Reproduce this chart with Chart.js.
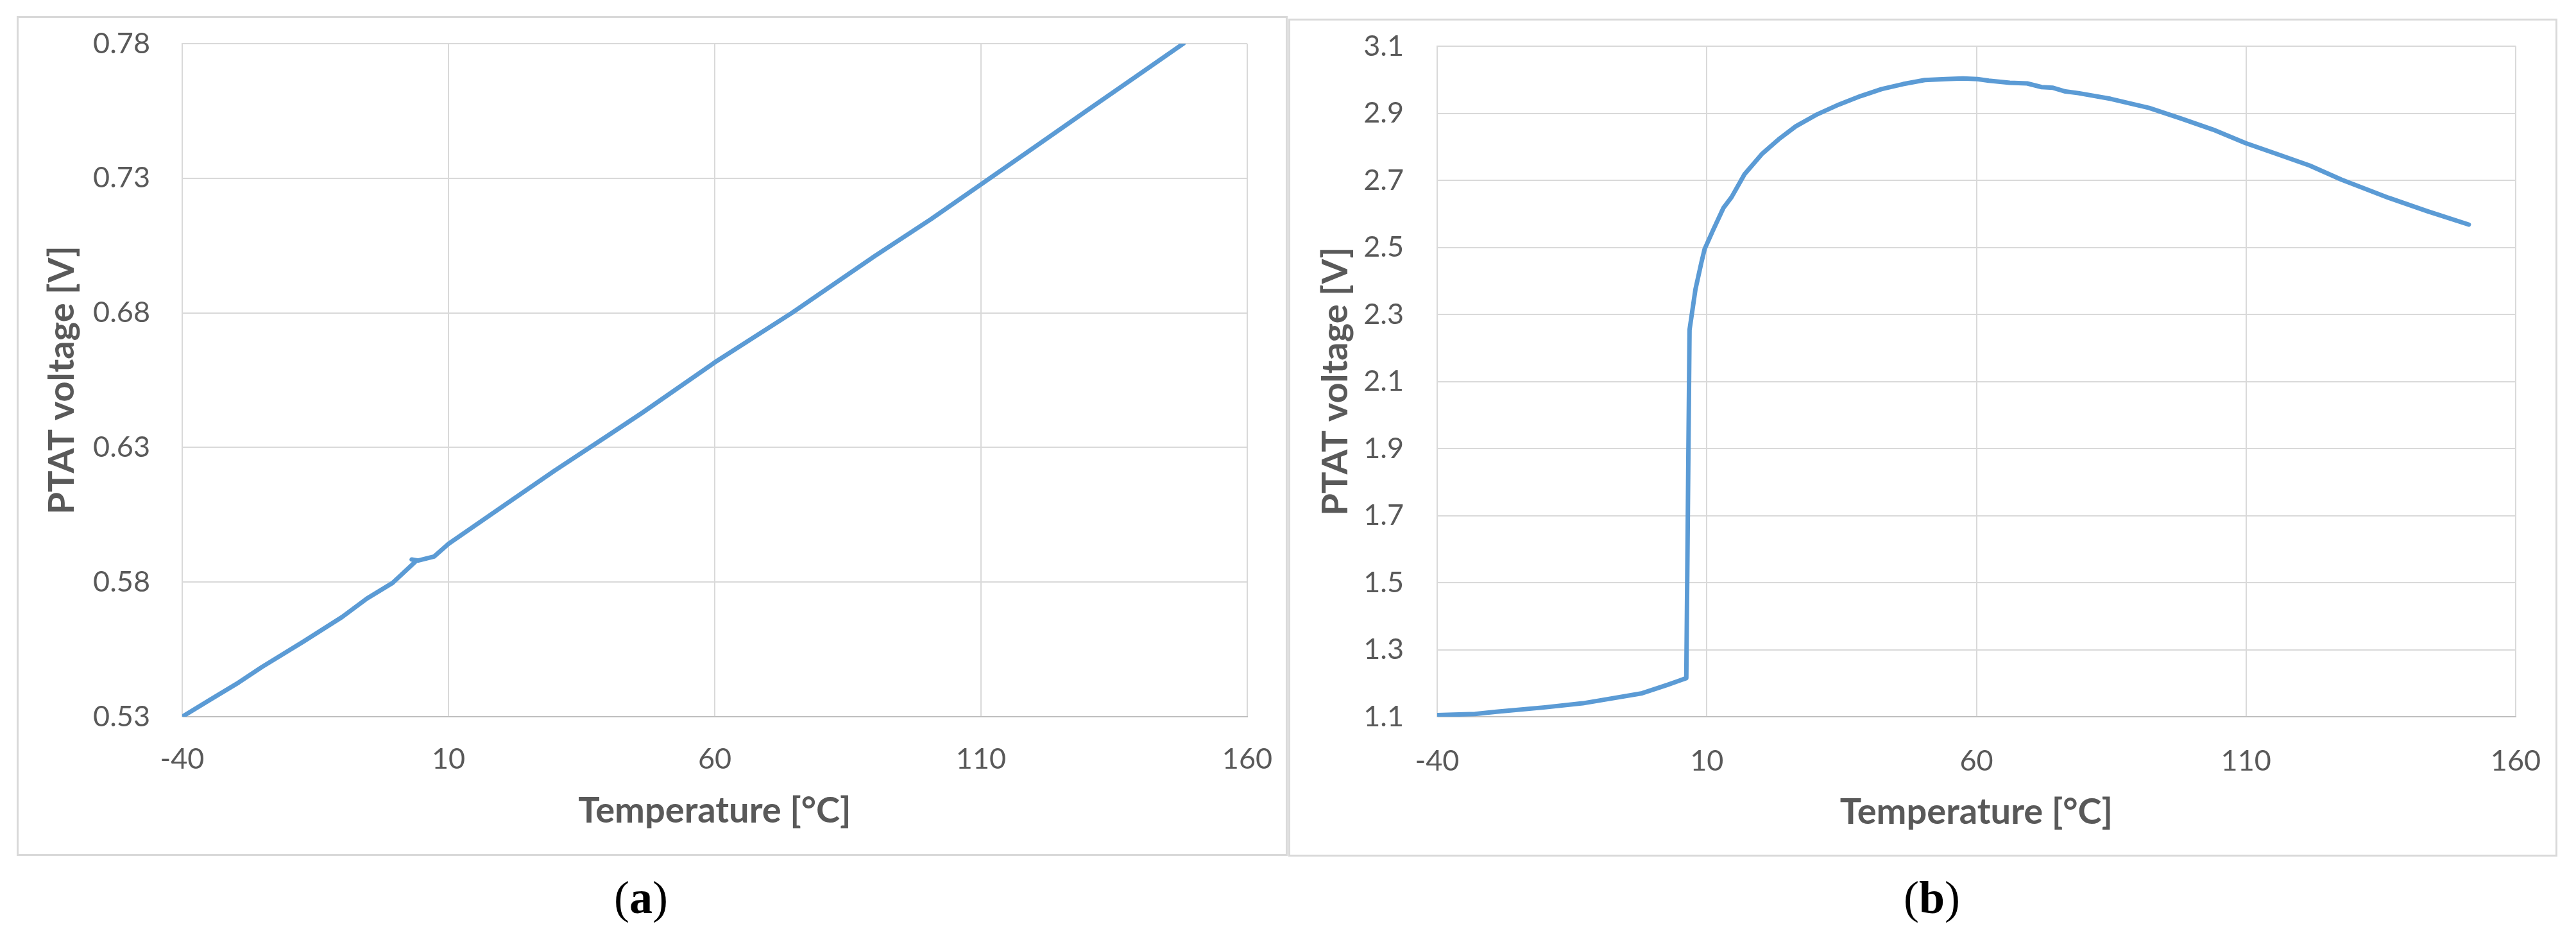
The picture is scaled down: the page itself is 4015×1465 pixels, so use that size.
<!DOCTYPE html>
<html>
<head>
<meta charset="utf-8">
<script src="https://cdn.jsdelivr.net/npm/chart.js@4.4.1/dist/chart.umd.min.js"></script>
<style>
  html, body { margin: 0; padding: 0; background: #ffffff; }
  body { width: 4015px; height: 1465px; position: relative; overflow: hidden; }
  .box { position: absolute; border: 3px solid #d9d9d9; box-sizing: border-box; }
  .wrap { position: absolute; }
  .cap { position: absolute; font-family: "Liberation Serif", "DejaVu Serif", serif; font-size: 72px; line-height: 72px; color: #000; text-align: center; width: 200px; }
</style>
</head>
<body>
<div class="box" style="left:26px;top:25px;width:1981px;height:1309px;"></div>
<div class="box" style="left:2008px;top:29px;width:1978px;height:1306px;"></div>
<div class="wrap" style="left:27px;top:26px;width:1978px;height:1306px;"><canvas id="ca" width="1978" height="1306"></canvas></div>
<div class="wrap" style="left:2009px;top:30px;width:1975px;height:1303px;"><canvas id="cb" width="1975" height="1303"></canvas></div>
<div class="cap" style="left:899px;top:1363px;">(<b>a</b>)</div>
<div class="cap" style="left:2911px;top:1363px;">(<b>b</b>)</div>
<script>
// ---- Data ----
const xTicks = [-40, 10, 60, 110, 160];
const xTickLabels = ["-40", "10", "60", "110", "160"];

const yTicksA = [0.53, 0.58, 0.63, 0.68, 0.73, 0.78];
const yTickLabelsA = ["0.53", "0.58", "0.63", "0.68", "0.73", "0.78"];

const yTicksB = [1.1, 1.3, 1.5, 1.7, 1.9, 2.1, 2.3, 2.5, 2.7, 2.9, 3.1];
const yTickLabelsB = ["1.1", "1.3", "1.5", "1.7", "1.9", "2.1", "2.3", "2.5", "2.7", "2.9", "3.1"];

const xTitle = "Temperature [°C]";
const yTitle = "PTAT voltage [V]";

// (a) PTAT voltage vs temperature
const tempA = [-40, -35, -29.4, -25, -17.4, -10, -5.3, -0.5, 3.9, 3.1, 4.3, 7.3, 10, 21.2, 30, 40, 46.4, 60, 74.5, 90, 100.6, 110, 120, 130, 140, 148];
const voltA = [0.5300, 0.5360, 0.5427, 0.5485, 0.5577, 0.5670, 0.5739, 0.5797, 0.5878, 0.5884, 0.5880, 0.5895, 0.5942, 0.6095, 0.6215, 0.6345, 0.6429, 0.6616, 0.6800, 0.7010, 0.7148, 0.7277, 0.7415, 0.7553, 0.7690, 0.7800];

// (b) PTAT voltage vs temperature
const tempB = [-40, -33, -29, -20, -13, -10, -2, 2.7, 5, 6.2, 6.8, 7.9, 9.0, 9.6, 11.1, 13.1, 14.6, 17.0, 20.2, 23.3, 26.5, 30.5, 34.5, 38.5, 42.4, 46.4, 50.4, 54.3, 57.5, 60.2, 62.3, 66.2, 69.4, 72.1, 74.2, 76.5, 78.9, 84.9, 92.0, 98.0, 103.9, 109.9, 115.8, 121.8, 127.7, 136.4, 143.6, 151.3];
const voltB = [1.105, 1.108, 1.115, 1.128, 1.140, 1.148, 1.170, 1.195, 1.208, 1.215, 2.254, 2.375, 2.455, 2.495, 2.549, 2.618, 2.650, 2.718, 2.778, 2.822, 2.861, 2.897, 2.926, 2.951, 2.972, 2.987, 2.999, 3.002, 3.004, 3.002, 2.997, 2.991, 2.989, 2.978, 2.976, 2.965, 2.960, 2.943, 2.916, 2.884, 2.851, 2.811, 2.778, 2.744, 2.702, 2.648, 2.608, 2.568];

// ---- Styling ----
const LINE = "#5B9BD5";
const GRID = "#d9d9d9";
const TXT = "#595959";
const FONT = "Lato, Carlito, 'Open Sans', sans-serif";

function pairs(xs, ys) { return xs.map((x, i) => ({x: x, y: ys[i]})); }

function makeChart(id, xs, ys, yTicks, yLabels, geo) {
  const ctx = document.getElementById(id).getContext("2d");
  return new Chart(ctx, {
    type: "scatter",
    data: {
      datasets: [{
        data: pairs(xs, ys),
        showLine: true,
        borderColor: LINE,
        backgroundColor: LINE,
        borderWidth: 7,
        pointRadius: 0,
        tension: 0,
        borderCapStyle: "round",
        borderJoinStyle: "round"
      }]
    },
    options: {
      responsive: false,
      animation: false,
      events: [],
      layout: { padding: { left: 0, top: geo.top, right: geo.right, bottom: 0 } },
      plugins: { legend: { display: false }, tooltip: { enabled: false } },
      scales: {
        x: {
          type: "linear",
          min: xTicks[0], max: xTicks[xTicks.length - 1],
          afterBuildTicks: s => { s.ticks = xTicks.map(v => ({value: v})); },
          afterFit: s => { s.height = geo.xh; s.paddingLeft = 0; s.paddingRight = 0; },
          ticks: {
            color: TXT, padding: geo.xtp, maxRotation: 0, autoSkip: false,
            font: { family: FONT, size: 45 },
            callback: (v) => { const i = xTicks.indexOf(v); return i >= 0 ? xTickLabels[i] : ""; }
          },
          grid: { color: GRID, lineWidth: 2, drawTicks: false },
          border: { color: "#bfbfbf", width: 2 },
          title: {
            display: true, text: xTitle, color: TXT,
            font: { family: FONT, size: 56, weight: "bold" },
            padding: { top: 0, bottom: geo.xtb }
          }
        },
        y: {
          type: "linear",
          min: yTicks[0], max: yTicks[yTicks.length - 1],
          afterBuildTicks: s => { s.ticks = yTicks.map(v => ({value: v})); },
          afterFit: s => { s.width = geo.yw; s.paddingTop = 0; s.paddingBottom = 0; },
          ticks: {
            color: TXT, padding: geo.ytp, autoSkip: false,
            font: { family: FONT, size: 45 },
            callback: (v) => { const i = yTicks.findIndex(t => Math.abs(t - v) < 1e-9); return i >= 0 ? yLabels[i] : ""; }
          },
          grid: { color: GRID, lineWidth: 2, drawTicks: false },
          border: { color: GRID, width: 2 },
          title: {
            display: true, text: yTitle, color: TXT,
            font: { family: FONT, size: 56, weight: "bold" },
            padding: { top: geo.ytt, bottom: 0 }
          }
        }
      }
    }
  });
}

makeChart("ca", tempA, voltA, yTicksA, yTickLabelsA,
  { top: 42, right: 61, xh: 215, yw: 257, xtp: 39, xtb: 34, ytp: 50, ytt: 36 });
makeChart("cb", tempB, voltB, yTicksB, yTickLabelsB,
  { top: 42, right: 63, xh: 216, yw: 231, xtp: 42, xtb: 33, ytp: 52, ytt: 39 });
</script>
</body>
</html>
